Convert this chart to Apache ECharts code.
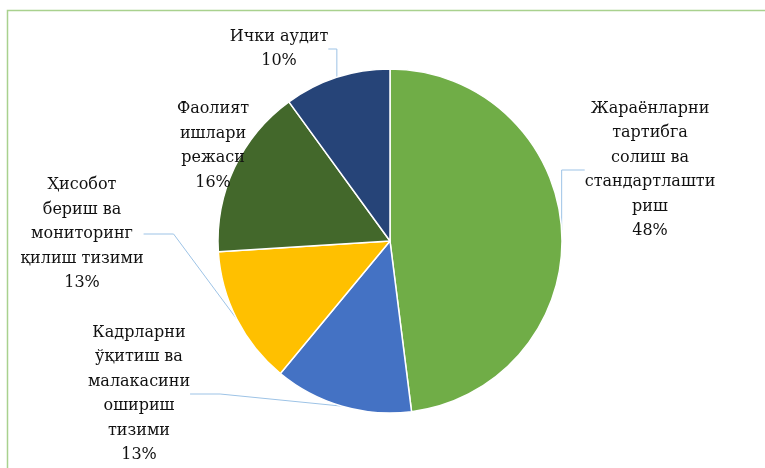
<!DOCTYPE html>
<html>
<head>
<meta charset="utf-8">
<script src="https://cdn.jsdelivr.net/npm/echarts@6/dist/echarts.min.js"></script>
<style>
html,body{margin:0;padding:0;background:#fff;}
#chart{width:765px;height:468px;}
</style>
</head>
<body>
<div id="chart"></div>
<script>
var categories = [
  "Жараёнларни\nтартибга\nсолиш ва\nстандартлашти\nриш",
  "Кадрларни\nўқитиш ва\nмалакасини\nошириш\nтизими",
  "Ҳисобот\nбериш ва\nмониторинг\nқилиш тизими",
  "Фаолият\nишлари\nрежаси",
  "Ички аудит"
];
var values = [48, 13, 13, 16, 10];
var colors = ["#70AD47", "#4472C4", "#FFC000", "#43682B", "#264478"];

// label block centres (layout only)
var labelPos = [[650, 170], [139, 394], [82, 234], [213, 146], [279, 49]];

var chart = echarts.init(document.getElementById('chart'));
chart.setOption({
  animation: false,
  graphic: [
    {type: 'rect', shape: {x: 7.5, y: 10.5, width: 900, height: 600},
     style: {fill: 'none', stroke: '#A9D18E', lineWidth: 1.5}, z: -1}
  ],
  series: [{
    type: 'pie',
    center: [390, 241],
    radius: [0, 172],
    startAngle: 90,
    clockwise: true,
    data: categories.map(function (c, i) {
      return {name: c, value: values[i], itemStyle: {color: colors[i]}};
    }),
    itemStyle: {borderColor: '#fff', borderWidth: 1.5},
    label: {
      show: true,
      formatter: '{b}\n{d}%',
      fontFamily: '"DejaVu Serif", "Liberation Serif", serif',
      fontSize: 16,
      lineHeight: 24.5,
      color: '#111',
      align: 'center'
    },
    labelLine: {show: true, lineStyle: {color: '#9DC3E6', width: 1}},
    labelLayout: function (params) {
      var p = labelPos[params.dataIndex];
      return {x: p[0], y: p[1], align: 'center', verticalAlign: 'middle'};
    }
  }]
});
</script>
</body>
</html>
